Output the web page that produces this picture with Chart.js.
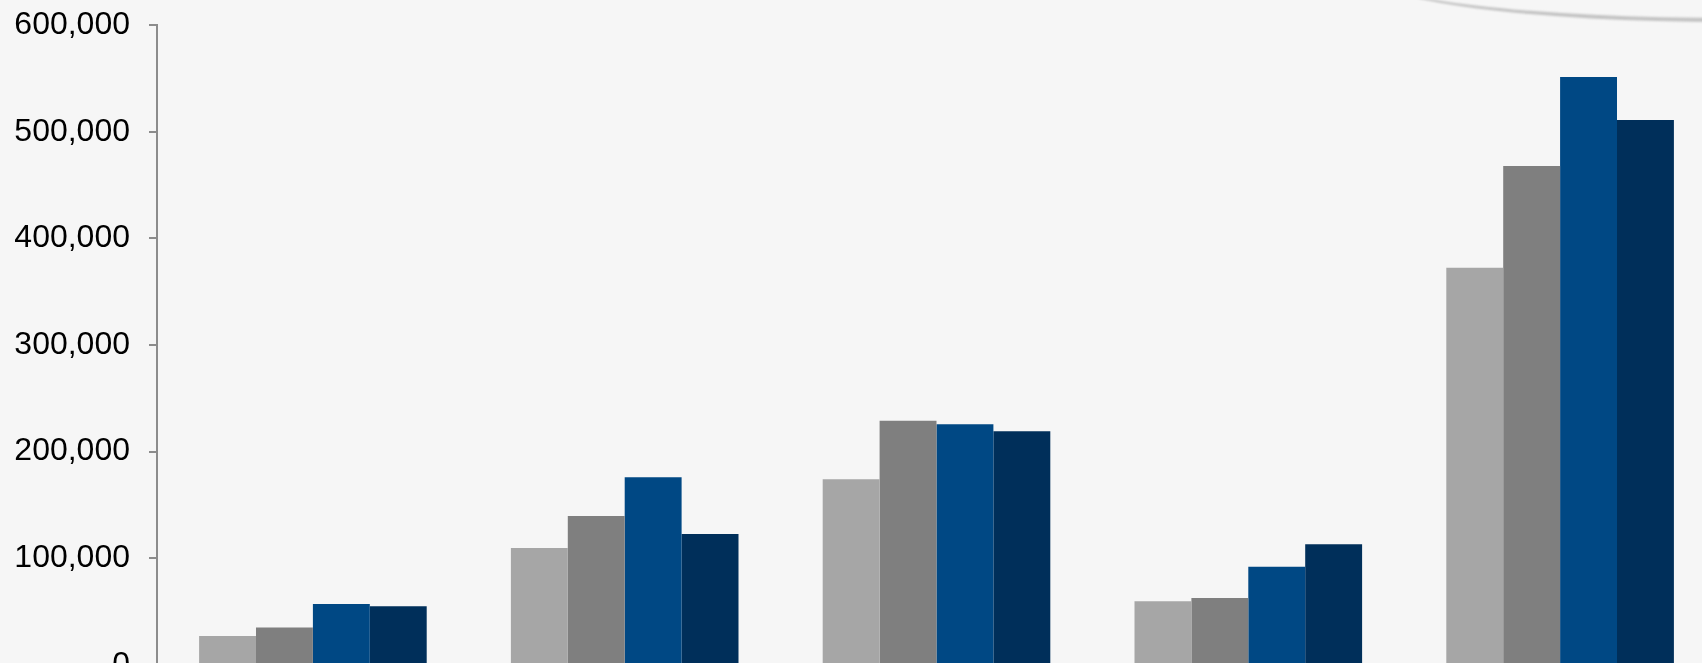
<!DOCTYPE html>
<html>
<head>
<meta charset="utf-8">
<script src="https://cdn.jsdelivr.net/npm/chart.js@4"></script>
<style>
  html, body { margin: 0; padding: 0; width: 1702px; height: 663px; overflow: hidden; background: #f6f6f6; }
  #wrap { position: absolute; left: 2px; top: -13px; width: 1730px; height: 716px; }
  #swirl {
    position: absolute; left: 1370px; top: -72px; width: 720px; height: 90px;
    border-radius: 50%; border-bottom: 4px solid rgba(130,130,130,0.45);
    filter: blur(1.2px);
  }
</style>
</head>
<body>
<div id="swirl"></div>
<div id="wrap"><canvas id="chart"></canvas></div>
<script>
// categories sit below the cropped bottom edge, so their names are not visible
const categories = ["A", "B", "C", "D", "E"];

const series1 = [27000, 109500, 174000, 59500, 372500];
const series2 = [35000, 139500, 229000, 62700, 468000];
const series3 = [57000, 176000, 225600, 92000, 551500];
const series4 = [55000, 122600, 219000, 113000, 511000];

const yTicks = [0, 100000, 200000, 300000, 400000, 500000, 600000];

const colors = ["#a6a6a6", "#7f7f7f", "#004884", "#002f5a"];

const ctx = document.getElementById("chart").getContext("2d");

new Chart(ctx, {
  type: "bar",
  data: {
    labels: categories,
    datasets: [series1, series2, series3, series4].map((d, i) => ({
      label: "Series " + (i + 1),
      data: d,
      backgroundColor: colors[i],
      borderWidth: 0,
      barPercentage: 1.0,
      categoryPercentage: 0.73,
    })),
  },
  options: {
    responsive: true,
    maintainAspectRatio: false,
    animation: false,
    layout: { padding: { top: 9, right: 16, left: 0, bottom: 0 } },
    plugins: {
      legend: { display: false },
      tooltip: { enabled: false },
    },
    scales: {
      x: {
        display: false,
      },
      y: {
        min: 0,
        max: 600000,
        afterBuildTicks: (scale) => { scale.ticks = yTicks.map(v => ({ value: v })); },
        afterFit: (scale) => { scale.width = 155; },
        border: { display: true, color: "#8c8c8c", width: 2 },
        grid: { drawOnChartArea: false, drawTicks: true, tickLength: 8, color: "#8c8c8c", lineWidth: 2 },
        ticks: {
          color: "#000",
          padding: 19,
          font: { family: "Liberation Sans, Arial, sans-serif", size: 32 },
          callback: (v) => v.toLocaleString("en-US"),
        },
      },
    },
  },
});
</script>
</body>
</html>
